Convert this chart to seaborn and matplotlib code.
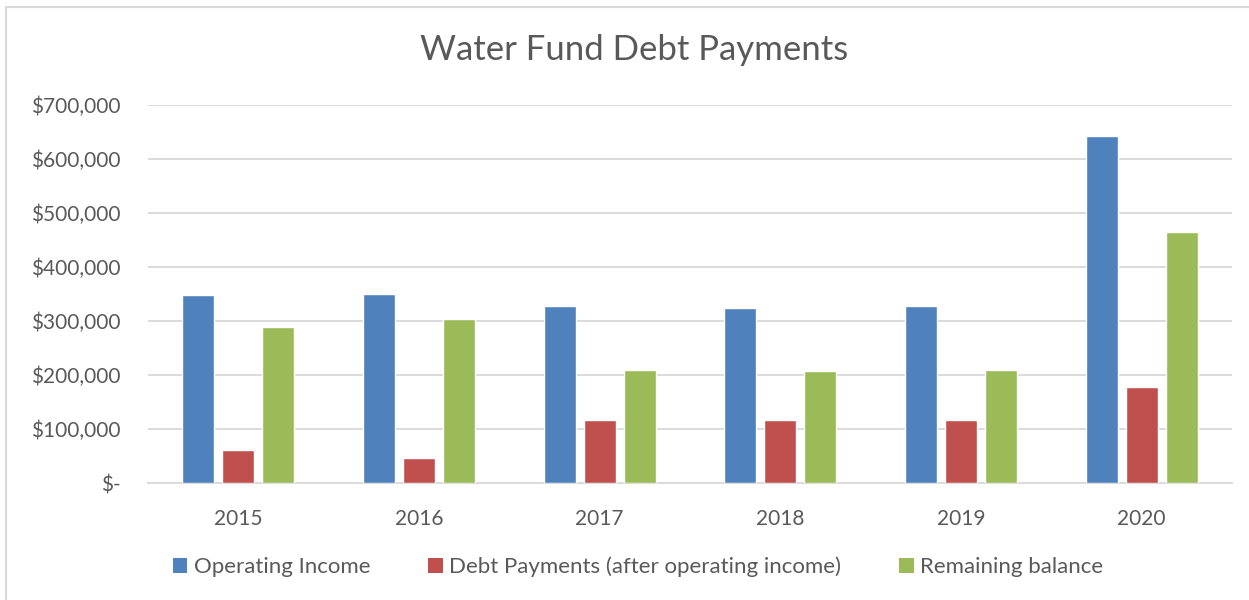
import numpy as np
import pandas as pd
import seaborn as sns
from matplotlib import pyplot as plt
from matplotlib.lines import Line2D
from matplotlib.patches import Patch
from matplotlib.ticker import FuncFormatter

years = ["2015", "2016", "2017", "2018", "2019", "2020"]
operating_income = [349000, 350000, 327000, 324000, 327000, 643000]
debt_payments = [62000, 47000, 116000, 116000, 117000, 178000]
remaining_balance = [288000, 303000, 209000, 207000, 210000, 465000]
series_names = ["Operating Income", "Debt Payments (after operating income)", "Remaining balance"]
colors = ["#4F81BD", "#C0504D", "#9BBB59"]

df = pd.DataFrame({
    "year": years * 3,
    "value": operating_income + debt_payments + remaining_balance,
    "series": np.repeat(series_names, len(years)),
})

sns.set_style("white")
plt.rcParams["font.family"] = ["Lato", "DejaVu Sans"]
text_col = "#595959"

fig = plt.figure(figsize=(12.49, 6.0), dpi=100)
ax = fig.add_axes([148 / 1249, 1 - 483 / 600, (1232 - 148) / 1249, (483 - 105) / 600])

sns.barplot(data=df, x="year", y="value", hue="series", palette=colors,
            width=0.664, gap=0.2, ax=ax, legend=False, saturation=1, zorder=3)

ax.set_ylim(0, 700000)
ax.set_xlim(-0.5, 5.5)
ax.set_yticks(np.arange(0, 700001, 100000))
ax.yaxis.set_major_formatter(FuncFormatter(lambda v, p: "$-" if v == 0 else "${:,.0f}".format(v)))
ax.grid(axis="y", color="#D9D9D9", linewidth=1.3, zorder=0)
for s in ["left", "right", "top"]:
    ax.spines[s].set_visible(False)
ax.spines["bottom"].set_color("#D9D9D9")
ax.spines["bottom"].set_linewidth(1.3)
ax.tick_params(axis="both", length=0, colors=text_col)
ax.tick_params(axis="y", pad=20, labelsize=15)
ax.tick_params(axis="x", pad=19, labelsize=15)
ax.set_xlabel("")
ax.set_ylabel("")

fig.text(0.508, 1 - 50 / 600, "Water Fund Debt Payments", ha="center", va="center",
         fontsize=25, color=text_col)

handles = [Patch(facecolor=c, edgecolor="none") for c in colors]
fig.legend(handles, series_names, loc="center", bbox_to_anchor=(0.511, 1 - 567 / 600),
           ncol=3, frameon=False, fontsize=16, labelcolor=text_col,
           handlelength=0.65, handleheight=0.65, handletextpad=0.3, columnspacing=2.6)

# outer chart border (only left and top visible)
fig.add_artist(Line2D([5.5 / 1249, 5.5 / 1249], [0, 1 - 6.5 / 600], color="#D9D9D9", lw=1.5))
fig.add_artist(Line2D([5.5 / 1249, 1], [1 - 6.5 / 600, 1 - 6.5 / 600], color="#D9D9D9", lw=1.5))

plt.savefig("out.png", dpi=100)
